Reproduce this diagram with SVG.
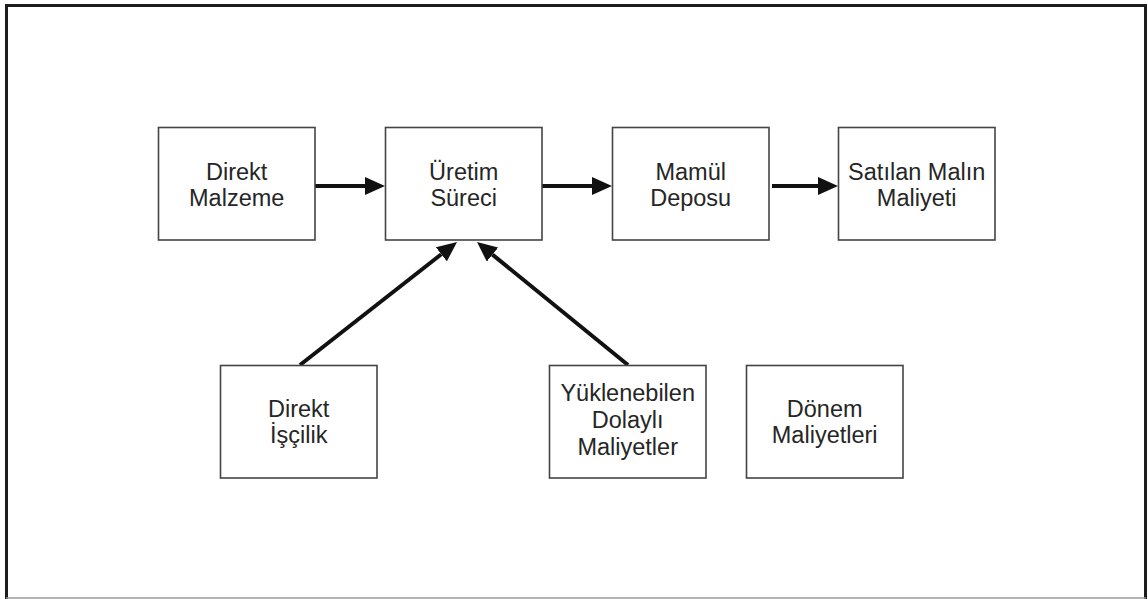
<svg xmlns="http://www.w3.org/2000/svg" width="1148" height="599" viewBox="0 0 1148 599">
  <defs>
    <marker id="head" markerUnits="userSpaceOnUse" markerWidth="20" markerHeight="18" refX="0" refY="9" orient="auto">
      <path d="M0,0 L20,9 L0,18 Z" fill="#111"/>
    </marker>
    <style>
      .box { fill: #fff; stroke: #444; stroke-width: 1.6; }
      .lbl { font-family: "Liberation Sans", Arial, sans-serif; font-size: 23.5px; fill: #262626; text-anchor: middle; }
      .conn { stroke: #111; stroke-width: 4; fill: none; marker-end: url(#head); }
    </style>
  </defs>

  <!-- page frame -->
  <rect x="0" y="0" width="1148" height="599" fill="#fff"/>
  <path d="M6.5,599 V5.5 H1145.5 V599" fill="none" stroke="#1c1c1c" stroke-width="3"/>
  <line x1="6" y1="598" x2="1146" y2="598" stroke="#9a9a9a" stroke-width="1.5"/>

  <!-- connectors -->
  <g id="connectors">
    <line class="conn" x1="313" y1="186" x2="365" y2="186"/>
    <line class="conn" x1="541" y1="186" x2="592" y2="186"/>
    <line class="conn" x1="772" y1="186" x2="818" y2="186"/>
    <line class="conn" x1="300" y1="365" x2="441.3" y2="254.3"/>
    <line class="conn" x1="628" y1="365" x2="492.5" y2="254.6"/>
  </g>

  <g id="direkt-malzeme">
    <rect class="box" x="158.5" y="127.5" width="156.5" height="112.5"/>
    <text class="lbl" x="236.7" y="179.5">Direkt</text>
    <text class="lbl" x="236.7" y="205.5">Malzeme</text>
  </g>

  <g id="uretim-sureci">
    <rect class="box" x="385.5" y="127.5" width="156.5" height="112.5"/>
    <text class="lbl" x="463.7" y="179.5">Üretim</text>
    <text class="lbl" x="463.7" y="205.5">Süreci</text>
  </g>

  <g id="mamul-deposu">
    <rect class="box" x="612.5" y="127.5" width="156.5" height="112.5"/>
    <text class="lbl" x="690.7" y="179.5">Mamül</text>
    <text class="lbl" x="690.7" y="205.5">Deposu</text>
  </g>

  <g id="satilan-malin-maliyeti">
    <rect class="box" x="838.5" y="127.5" width="156.5" height="112.5"/>
    <text class="lbl" x="916.7" y="179.5">Satılan Malın</text>
    <text class="lbl" x="916.7" y="205.5">Maliyeti</text>
  </g>

  <g id="direkt-iscilik">
    <rect class="box" x="220.5" y="365.5" width="156.5" height="112.5"/>
    <text class="lbl" x="298.7" y="416.5">Direkt</text>
    <text class="lbl" x="298.7" y="443">İşçilik</text>
  </g>

  <g id="yuklenebilen-dolayli-maliyetler">
    <rect class="box" x="549.5" y="365.5" width="156.5" height="112.5"/>
    <text class="lbl" x="627.7" y="401">Yüklenebilen</text>
    <text class="lbl" x="627.7" y="428">Dolaylı</text>
    <text class="lbl" x="627.7" y="454.5">Maliyetler</text>
  </g>

  <g id="donem-maliyetleri">
    <rect class="box" x="746.5" y="365.5" width="156.5" height="112.5"/>
    <text class="lbl" x="824.7" y="416.5">Dönem</text>
    <text class="lbl" x="824.7" y="442.5">Maliyetleri</text>
  </g>
</svg>
